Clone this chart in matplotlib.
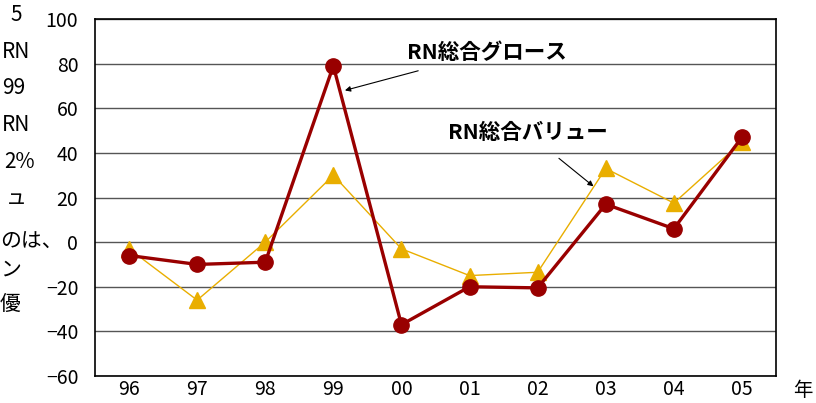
import matplotlib.pyplot as plt
import numpy as np

plt.rcParams['font.family'] = ['Noto Sans CJK JP', 'DejaVu Sans']

years = ['96', '97', '98', '99', '00', '01', '02', '03', '04', '05']
gross = [-6, -10, -9, 79, -37, -20, -20.5, 17, 6, 47]
value = [-3, -26, 0, 30, -3, -15, -13.5, 33, 17.5, 45]

fig = plt.figure(figsize=(8.16, 4.03), dpi=100)
ax = fig.add_axes([95/816, 1 - 376/403, (776 - 95)/816, (376 - 19)/403])

x = np.arange(len(years))
ax.plot(x, value, color='#E9AE00', lw=1.0, marker='^', ms=12, zorder=3)
ax.plot(x, gross, color='#990000', lw=2.4, marker='o', ms=11, zorder=4)

ax.set_xlim(-0.5, len(years) - 0.5)
ax.set_ylim(-60, 100)
ax.set_yticks(range(-60, 101, 20))
ax.set_xticks(x)
ax.set_xticklabels(years)
ax.tick_params(axis='both', length=0, labelsize=14)
ax.tick_params(axis='x', pad=2)
ax.tick_params(axis='y', pad=12)
ax.grid(axis='y', color='#555555', lw=1.0)
ax.set_axisbelow(True)
for s in ax.spines.values():
    s.set_color('black')
    s.set_linewidth(1.2)

# year unit
fig.text(803/816, 1 - 390/403, '年', fontsize=14, ha='center', va='center')

# annotations
ax.annotate('RN総合グロース', xy=(3.17, 68), xytext=(5.25, 85),
            fontsize=15.5, fontweight='bold', ha='center', va='center',
            arrowprops=dict(arrowstyle='-|>', color='black', lw=0.8,
                            shrinkA=14, shrinkB=0, mutation_scale=8))
ax.annotate('RN総合バリュー', xy=(6.82, 25), xytext=(5.85, 49),
            fontsize=15.5, fontweight='bold', ha='center', va='center',
            arrowprops=dict(arrowstyle='-|>', color='black', lw=0.8,
                            shrinkA=14, shrinkB=0, mutation_scale=8))

# body text cut at the left edge
left_text = [(10, 15, '5'), (2, 52, 'RN'), (2, 88, '99'), (2, 125, 'RN'),
             (4, 162, '2%'), (6, 198, 'ュ'), (0, 242, 'のは、'),
             (0, 270, 'ン'), (0, 305, '優')]
for px, py, t in left_text:
    fig.text(px/816, 1 - py/403, t, fontsize=15, ha='left', va='center')

fig.savefig('out.png', dpi=100)
